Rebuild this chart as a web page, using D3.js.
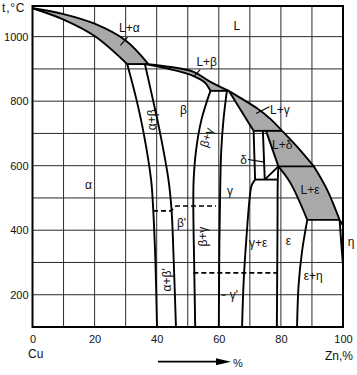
<!DOCTYPE html>
<html><head><meta charset="utf-8">
<script src="https://cdn.jsdelivr.net/npm/d3@7"></script>
<style>
body{margin:0;background:#fff}
svg{display:block}
text{font-family:"Liberation Sans",Arial,sans-serif;fill:#111}
</style>
</head><body>
<svg id="c" width="357" height="375"></svg>
<script>
// ---- data (x = Zn %, y = t °C) ----
const xTickLabels = [0, 20, 40, 60, 80, 100];
const yTickLabels = [200, 400, 600, 800, 1000];
const gridX = [10, 20, 30, 40, 50, 60, 70, 80, 90];
const gridY = [200, 300, 400, 500, 600, 700, 800, 900, 1000];

const liquidusA = [[0,1088],[10,1070],[20,1040],[30,988],[37.3,915]];
const solidusAlpha = [[0,1088],[10,1053],[20,1002],[30.5,915]];
const liquidusB = [[37.3,915],[44.4,906],[51.9,891],[57.3,860],[63.2,832]];
const solidusBeta = [[36.2,915],[44.4,899],[51.9,878],[55.5,858],[57.3,832]];
const liquidusC = [[63.2,832],[67.5,807],[72.3,778],[76.5,746],[80.4,708]];
const liquidusD = [[80.4,708],[85.2,659],[90.6,598]];
const liquidusE = [[90.6,598],[94.9,525],[98.9,432]];
const liquidusTail = [[98.9,432],[100,415]];
const solidusGamma = [[63.2,832],[71.2,708]];
const solidusDelta = [[75.2,708],[79.2,598]];
const solidusEps = [[79.2,598],[83.1,546],[88.5,432]];

const alphaSolvus = [[30.5,915],[33.5,804],[35.8,701],[38.2,556],[38.9,460],[39.6,300],[40.1,100]];
const betaLeft = [[36.2,915],[38.8,804],[41.1,701],[43.8,556],[44.8,460],[45.5,300],[46.2,100]];
const betaRight = [[57.3,832],[54.4,742],[52.7,649],[51.9,556],[51.8,463],[52.1,277],[52.4,100]];
const gammaLeft = [[62.6,832],[61.5,742],[60.8,649],[60.5,556],[60.2,370],[60,100]];
const gammaRight = [[71.7,557],[70.6,540],[70,505],[69,390],[68,240],[67.5,100]];
const deltaLeft = [[71.2,708],[71.7,557]];
const deltaRight = [[74.2,708],[74.8,557]];
const deltaEps = [[74.8,557],[79.2,598]];
const epsLeft = [[79.2,598],[79,557],[78.9,400],[78.7,100]];
const epsRight = [[88.5,432],[86.8,334],[85.7,230],[85.2,100]];
const etaLeft = [[98.9,432],[99.6,340],[100,290]];

const isotherms = [
  [[30.5,915],[37.3,915]],
  [[57.3,832],[63.2,832]],
  [[71.2,708],[80.4,708]],
  [[79.2,598],[90.6,598]],
  [[71.7,557],[79,557]],
  [[88.5,432],[98.9,432]]
];
const orderBeta = [[38.8,460],[44.6,460],[46.2,475],[59.1,475]];
const orderGamma = [[51.8,268],[78.7,268]];

const regionLabels = [
  {t:"L+α", x:31.2, y:1026},
  {t:"L", x:65.8, y:1033},
  {t:"L+β", x:56.1, y:920},
  {t:"β", x:48.6, y:773},
  {t:"L+γ", x:79.7, y:773},
  {t:"L+δ", x:80.4, y:664},
  {t:"δ", x:68.0, y:617},
  {t:"L+ε", x:89.4, y:525},
  {t:"α", x:18, y:540},
  {t:"α+β", x:38.4, y:742, r:-90},
  {t:"β+γ", x:56.1, y:687, r:-72},
  {t:"γ", x:63.6, y:522},
  {t:"β'", x:48, y:421},
  {t:"β+γ", x:55, y:380, r:-90},
  {t:"α+β'", x:43.2, y:246, r:-90},
  {t:"γ+ε", x:72.7, y:359},
  {t:"ε", x:82.4, y:367},
  {t:"η", x:102.6, y:362},
  {t:"ε+η", x:90.4, y:259},
  {t:"γ'", x:64.9, y:199}
];
const leaders = [
  [[30.6,998],[28.3,973]],
  [[54.0,898],[52.2,879]],
  [[76.3,783],[72,762]],
  [[69.4,619],[74.8,611]],
  [[60.9,199],[62.2,199]]
];

// ---- drawing ----
const svg = d3.select("#c");
const x = d3.scaleLinear().domain([0,100]).range([32.5,343]);
const y = d3.scaleLinear().domain([100,1095]).range([327,6]);

const curved = d3.line().x(d=>x(d[0])).y(d=>y(d[1])).curve(d3.curveCatmullRom.alpha(0.5));
const straight = d3.line().x(d=>x(d[0])).y(d=>y(d[1]));

// grid
svg.append("g").selectAll("line").data(gridX).join("line")
  .attr("x1", d=>x(d)).attr("x2", d=>x(d)).attr("y1", y(100)).attr("y2", y(1095))
  .attr("stroke", "#2a2a2a").attr("stroke-width", 1);
svg.append("g").selectAll("line").data(gridY).join("line")
  .attr("y1", d=>y(d)).attr("y2", d=>y(d)).attr("x1", x(0)).attr("x2", x(100))
  .attr("stroke", "#2a2a2a").attr("stroke-width", 1);

// two-phase L+solid fills
function region(a, b) {
  const p1 = curved(a);
  const p2 = curved(b.slice().reverse()).replace(/^M/, "L");
  return p1 + p2 + "Z";
}
const fills = [
  [liquidusA, solidusAlpha],
  [liquidusB, solidusBeta],
  [liquidusC, solidusGamma],
  [liquidusD, solidusDelta],
  [liquidusE, solidusEps]
];
svg.append("g").selectAll("path").data(fills).join("path")
  .attr("d", d=>region(d[0], d[1]))
  .attr("fill", "#a9a9a9").attr("stroke", "none");

// phase boundaries
const curves = [liquidusA, solidusAlpha, liquidusB, solidusBeta, liquidusC, liquidusD, liquidusE,
  liquidusTail, solidusGamma, solidusDelta, solidusEps, alphaSolvus, betaLeft, betaRight,
  gammaLeft, gammaRight, deltaLeft, deltaRight, deltaEps, epsLeft, epsRight, etaLeft];
svg.append("g").selectAll("path").data(curves).join("path")
  .attr("d", d=>curved(d)).attr("fill", "none")
  .attr("stroke", "#000").attr("stroke-width", 1.9).attr("stroke-linejoin", "round");
svg.append("g").selectAll("path").data(isotherms).join("path")
  .attr("d", d=>straight(d)).attr("fill", "none")
  .attr("stroke", "#000").attr("stroke-width", 1.9);

// ordering transitions (dashed)
svg.append("g").selectAll("path").data([orderBeta, orderGamma]).join("path")
  .attr("d", d=>straight(d)).attr("fill", "none")
  .attr("stroke", "#000").attr("stroke-width", 1.7).attr("stroke-dasharray", "5,3");

// frame
svg.append("rect").attr("x", x(0)).attr("y", y(1095))
  .attr("width", x(100)-x(0)).attr("height", y(100)-y(1095))
  .attr("fill", "none").attr("stroke", "#000").attr("stroke-width", 2);

// axes (labels only)
const ax = svg.append("g").attr("transform", `translate(0,${y(100)})`)
  .call(d3.axisBottom(x).tickValues(xTickLabels).tickSize(0).tickPadding(8).tickFormat(d3.format("d")));
const ay = svg.append("g").attr("transform", `translate(${x(0)},0)`)
  .call(d3.axisLeft(y).tickValues(yTickLabels).tickSize(0).tickPadding(4).tickFormat(d3.format("d")));
[ax, ay].forEach(g => {
  g.select(".domain").remove();
  g.selectAll("text").attr("font-size", 11).attr("fill", "#111")
    .attr("font-family", "'Liberation Sans',Arial,sans-serif");
});

// region labels
svg.append("g").selectAll("text").data(regionLabels).join("text")
  .attr("transform", d=>`translate(${x(d.x)},${y(d.y)}) rotate(${d.r||0})`)
  .attr("text-anchor", "middle").attr("dominant-baseline", "central")
  .attr("font-size", 12).text(d=>d.t);
svg.append("g").selectAll("path").data(leaders).join("path")
  .attr("d", d=>straight(d)).attr("stroke", "#000").attr("stroke-width", 1.1).attr("fill", "none");

// axis titles
svg.append("text").attr("x", 2).attr("y", 12).attr("font-size", 12).attr("letter-spacing", 0.8).text("t,°C");
svg.append("text").attr("x", 28).attr("y", 358).attr("font-size", 12).text("Cu");
svg.append("text").attr("x", 325).attr("y", 360).attr("font-size", 12).text("Zn,%");
svg.append("line").attr("x1", 158).attr("x2", 220).attr("y1", 361.7).attr("y2", 361.7)
  .attr("stroke", "#000").attr("stroke-width", 1.8);
svg.append("path").attr("d", "M216,358.2L231,361.7L216,365.2Z").attr("fill", "#000");
svg.append("text").attr("x", 233).attr("y", 366.5).attr("font-size", 11).text("%");
</script>
</body></html>
